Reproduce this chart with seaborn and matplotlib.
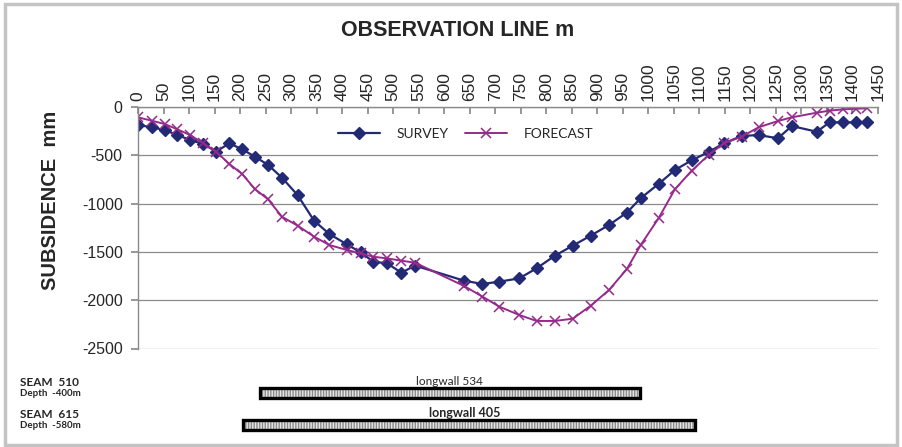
import matplotlib
matplotlib.use("Agg")
import matplotlib.pyplot as plt
from matplotlib.patches import Rectangle
import pandas as pd
import seaborn as sns

# ---------------------------------------------------------------------------
# Data
# ---------------------------------------------------------------------------
distance = [0, 27, 52, 77, 102, 128, 153, 179, 204, 229, 255, 282, 313, 345,
            375, 409, 436, 461, 488, 516, 543, 639, 675, 708, 747, 781, 817,
            852, 887, 923, 958, 985, 1020, 1052, 1085, 1118, 1148, 1183, 1216,
            1254, 1281, 1330, 1355, 1382, 1407, 1428]

survey = [-186, -210, -238, -290, -341, -383, -462, -376, -438, -514, -600,
          -731, -914, -1177, -1315, -1421, -1504, -1601, -1618, -1715, -1642,
          -1798, -1832, -1808, -1774, -1670, -1539, -1435, -1332, -1221,
          -1093, -944, -797, -652, -552, -466, -376, -300, -290, -324, -197,
          -256, -159, -159, -159, -159]

forecast = [-107, -142, -176, -231, -290, -376, -462, -590, -693, -849, -956,
            -1136, -1229, -1342, -1429, -1480, -1515, -1550, -1567, -1591,
            -1612, -1853, -1963, -2067, -2153, -2215, -2215, -2191, -2057,
            -1894, -1677, -1429, -1152, -852, -659, -497, -376, -307, -210,
            -145, -107, -59, -38, -24, -18, -14]

x_ticks = list(range(0, 1451, 50))
y_ticks = [0, -500, -1000, -1500, -2000, -2500]

longwall_names = ["longwall 534", "longwall 405"]
longwall_start = [240, 206]
longwall_end = [984, 1091]

seam_labels = [("SEAM  510", "Depth  -400m"), ("SEAM  615", "Depth  -580m")]

SURVEY_COLOR = "#232a75"
FORECAST_COLOR = "#962a8c"
GRID_COLOR = "#8a8a8a"

# ---------------------------------------------------------------------------
# Figure
# ---------------------------------------------------------------------------
sns.set_theme(style="white")
plt.rcParams["font.family"] = ["Liberation Sans", "DejaVu Sans"]

W, H = 903, 447
fig = plt.figure(figsize=(W / 100, H / 100), dpi=100)


def px_box(left, top, right, bottom):
    return [left / W, 1 - bottom / H, (right - left) / W, (bottom - top) / H]


ax = fig.add_axes(px_box(138, 107, 878, 348.5))

df = pd.DataFrame({"distance": distance, "SURVEY": survey, "FORECAST": forecast})

sns.lineplot(data=df, x="distance", y="SURVEY", ax=ax, color=SURVEY_COLOR,
             marker="D", markersize=6.3, markeredgecolor=SURVEY_COLOR,
             markeredgewidth=1.0, linewidth=1.6, label="SURVEY", sort=False)
sns.lineplot(data=df, x="distance", y="FORECAST", ax=ax, color=FORECAST_COLOR,
             marker="x", markersize=7.5, markeredgecolor=FORECAST_COLOR,
             markeredgewidth=1.1, linewidth=1.4, label="FORECAST", sort=False)

ax.set_xlim(0, 1450)
ax.set_ylim(-2500, 0)
ax.set_xticks(x_ticks)
ax.set_yticks(y_ticks)
ax.xaxis.tick_top()
ax.set_xticklabels([str(v) for v in x_ticks], rotation=90, fontsize=12.5)
ax.set_yticklabels([str(v) for v in y_ticks], fontsize=11.5)
ax.tick_params(axis="x", direction="in", length=5, color=GRID_COLOR, pad=4,
               top=True, bottom=False)
ax.tick_params(axis="y", direction="out", length=5, color=GRID_COLOR, pad=6,
               left=True)
ax.yaxis.grid(True, color=GRID_COLOR, linewidth=0.9)
ax.xaxis.grid(False)
for side in ("right", "bottom"):
    ax.spines[side].set_visible(False)
for side in ("top", "left"):
    ax.spines[side].set_color(GRID_COLOR)
    ax.spines[side].set_linewidth(1.0)
ax.set_xlabel("")
ax.set_ylabel("")

fig.text(458 / W, 1 - 30 / H, "OBSERVATION LINE m", ha="center", va="center",
         fontsize=15.5, fontweight="bold")
fig.text(51 / W, 1 - 200 / H, "SUBSIDENCE  mm", ha="center", va="center",
         rotation=90, fontsize=14.5, fontweight="bold")

leg = ax.legend(loc="center left", bbox_to_anchor=(338 / W, 1 - 134 / H),
                bbox_transform=fig.transFigure, ncol=2, frameon=False,
                borderpad=0, borderaxespad=0, handlelength=3.0,
                handletextpad=1.2, columnspacing=1.2,
                prop={"family": "Lato", "size": 10})

# ---------------------------------------------------------------------------
# Longwall panels below the profile
# ---------------------------------------------------------------------------
ax2 = fig.add_axes(px_box(138, 377.3, 878, 441.3), sharex=ax)
ax2.set_ylim(1.5, -0.5)
widths = [e - s for s, e in zip(longwall_start, longwall_end)]
rows = list(range(len(longwall_names)))
ax2.barh(rows, widths, left=longwall_start, height=0.32, color="#e6e6e6",
         edgecolor="#8c8c8c", hatch="||||||", linewidth=0)
ax2.barh(rows, widths, left=longwall_start, height=0.32, fill=False,
         edgecolor="black", linewidth=2.4)
ax2.axis("off")

ax2.text(610, -0.38, longwall_names[0], ha="center", va="center",
         fontsize=8.5, family="Lato")
ax2.text(641, 0.62, longwall_names[1], ha="center", va="center",
         fontsize=9, family="Lato", fontweight="bold")

for (seam, depth), y0 in zip(seam_labels, [383, 414]):
    fig.text(20 / W, 1 - y0 / H, seam, ha="left", va="center", fontsize=8.5,
             family="Lato", fontweight="bold")
    fig.text(20 / W, 1 - (y0 + 11) / H, depth, ha="left", va="center",
             fontsize=7, family="Lato", fontweight="bold")

# light grey outer frame
fig.patches.append(Rectangle((5 / W, 2 / H), 892 / W, 441 / H,
                             transform=fig.transFigure, fill=False,
                             edgecolor="#c4c4c4", linewidth=2.5))

fig.savefig("out.png", dpi=100)
